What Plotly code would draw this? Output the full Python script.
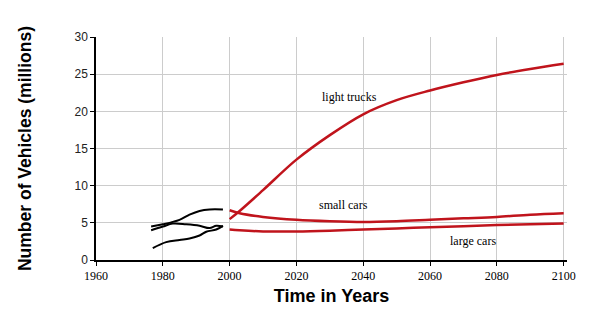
import plotly.graph_objects as go

# Historical data (black)
hist_a_years = [1976.5, 1980, 1985, 1988, 1991, 1994, 1998]
hist_a_vals = [4.5, 4.8, 5.4, 6.1, 6.6, 6.8, 6.8]
hist_b_years = [1976.5, 1980, 1983, 1987, 1991, 1994, 1996, 1998]
hist_b_vals = [4.0, 4.5, 4.9, 4.8, 4.6, 4.3, 4.6, 4.5]
hist_c_years = [1977, 1981, 1985, 1988, 1991, 1993, 1996, 1998]
hist_c_vals = [1.6, 2.4, 2.7, 2.9, 3.3, 3.8, 4.1, 4.6]

# Projections (red)
proj_years = [2000, 2003, 2010, 2020, 2030, 2040, 2050, 2060, 2070, 2080, 2090, 2100]
light_trucks = [5.5, 6.6, 9.4, 13.5, 16.8, 19.6, 21.5, 22.8, 23.9, 24.9, 25.7, 26.4]
small_cars = [6.7, 6.3, 5.8, 5.4, 5.2, 5.1, 5.2, 5.4, 5.6, 5.8, 6.1, 6.3]
large_cars = [4.1, 4.0, 3.85, 3.85, 3.95, 4.1, 4.25, 4.4, 4.55, 4.7, 4.8, 4.9]

labels = ["light trucks", "small cars", "large cars"]
label_x = [2036, 2034, 2073]
label_y = [21.9, 7.4, 2.5]

RED = "#c0141c"
fig = go.Figure()
for xs, ys in [(hist_a_years, hist_a_vals), (hist_b_years, hist_b_vals), (hist_c_years, hist_c_vals)]:
    fig.add_trace(go.Scatter(x=xs, y=ys, mode="lines", line=dict(color="black", width=2, shape="spline"),
                             showlegend=False))
for ys in [light_trucks, small_cars, large_cars]:
    fig.add_trace(go.Scatter(x=proj_years, y=ys, mode="lines", line=dict(color=RED, width=2.5, shape="spline"),
                             showlegend=False))

for t, x, y in zip(labels, label_x, label_y):
    fig.add_annotation(x=x, y=y, text=t, showarrow=False,
                       font=dict(family="Liberation Serif", size=12, color="black"))

fig.update_layout(
    width=600, height=321,
    margin=dict(l=96, r=33, t=37, b=61),
    paper_bgcolor="white", plot_bgcolor="white",
    xaxis=dict(range=[1960, 2101], tick0=1960, dtick=20, showgrid=True, gridcolor="#cccccc",
               showline=True, linecolor="black", linewidth=1.5, ticks="outside", ticklen=4,
               tickcolor="black", zeroline=False,
               tickfont=dict(family="Liberation Serif", size=12, color="black"),
               title=dict(text="Time in Years", standoff=7,
                          font=dict(family="Liberation Sans", size=18, color="black", weight="bold"))),
    yaxis=dict(range=[0, 30], dtick=5, showgrid=True, gridcolor="#cccccc",
               showline=True, linecolor="black", linewidth=1.5, ticks="outside", ticklen=4,
               tickcolor="black", zeroline=False,
               tickfont=dict(family="Liberation Sans", size=12, color="#222222"),
               title=dict(text="Number of Vehicles (millions)", standoff=38,
                          font=dict(family="Liberation Sans", size=17.5, color="black", weight="bold"))),
)

fig.write_html("out.html")
